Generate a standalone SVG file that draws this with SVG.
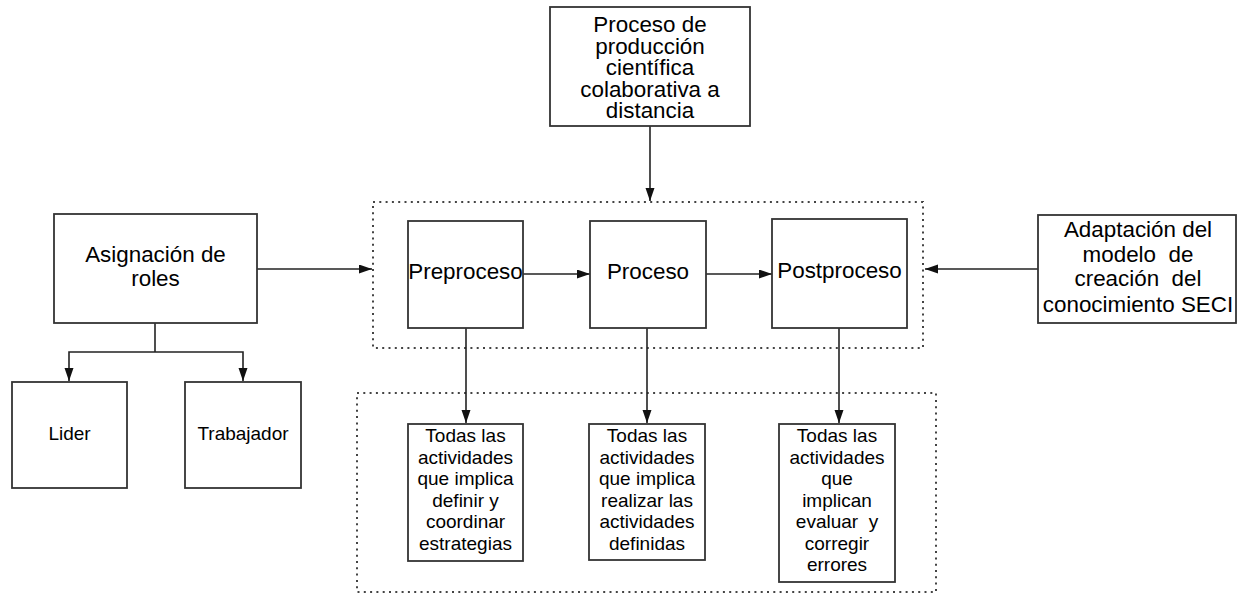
<svg xmlns="http://www.w3.org/2000/svg" width="1238" height="596" viewBox="0 0 1238 596">
<defs>
<marker id="ah" markerUnits="userSpaceOnUse" markerWidth="14" markerHeight="10" refX="13" refY="4.5" orient="auto">
<path d="M0,0 L13,4.5 L0,9 Z" fill="#111"/>
</marker>
<style>
.box{fill:#fff;stroke:#333;stroke-width:1.8}
.dot{fill:none;stroke:#444;stroke-width:2;stroke-dasharray:2 4.3}
.ln{fill:none;stroke:#222;stroke-width:1.6}
.ar{fill:none;stroke:#222;stroke-width:1.6;marker-end:url(#ah)}
text{font-family:"Liberation Sans",Arial,sans-serif;fill:#000;text-anchor:middle}
.t22{font-size:22.4px}
.t19{font-size:19px}
</style>
</defs>
<rect width="1238" height="596" fill="#fff"/>

<g id="group-main">
<rect class="dot" x="373" y="202" width="550" height="146"/>
</g>
<g id="group-activities">
<rect class="dot" x="357" y="393" width="579" height="199"/>
</g>

<g id="connectors">
<line class="ar" x1="650" y1="126" x2="650" y2="201"/>
<line class="ar" x1="257" y1="269" x2="372" y2="269"/>
<line class="ar" x1="1038" y1="269" x2="925" y2="269"/>
<line class="ar" x1="523" y1="274" x2="590" y2="274"/>
<line class="ar" x1="706" y1="274" x2="772" y2="274"/>
<polyline class="ln" points="155,323 155,352"/>
<polyline class="ar" points="155,352 69,352 69,381"/>
<polyline class="ar" points="155,352 243,352 243,381"/>
<line class="ar" x1="466" y1="328" x2="466" y2="423"/>
<line class="ar" x1="647" y1="328" x2="647" y2="423"/>
<line class="ar" x1="839" y1="328" x2="839" y2="423"/>
</g>

<g id="node-proceso-produccion">
<rect class="box" x="550" y="7" width="200" height="119"/>
<text class="t22"><tspan x="650" y="32">Proceso de</tspan><tspan x="650" y="53.5">producción</tspan><tspan x="650" y="75">científica</tspan><tspan x="650" y="96.5">colaborativa a</tspan><tspan x="650" y="118">distancia</tspan></text>
</g>

<g id="node-asignacion">
<rect class="box" x="54" y="214" width="203" height="109"/>
<text class="t22"><tspan x="155.5" y="262">Asignación de</tspan><tspan x="155.5" y="286">roles</tspan></text>
</g>

<g id="node-lider">
<rect class="box" x="12" y="382" width="115" height="106"/>
<text class="t19" x="69.5" y="440">Lider</text>
</g>

<g id="node-trabajador">
<rect class="box" x="185" y="382" width="116" height="106"/>
<text class="t19" x="243" y="440">Trabajador</text>
</g>

<g id="node-preproceso">
<rect class="box" x="408" y="221" width="115" height="107"/>
<text class="t22" x="465.5" y="279">Preproceso</text>
</g>

<g id="node-proceso">
<rect class="box" x="590" y="221" width="116" height="107"/>
<text class="t22" x="648" y="279">Proceso</text>
</g>

<g id="node-postproceso">
<rect class="box" x="772" y="219" width="135" height="109"/>
<text class="t22" x="839.5" y="278">Postproceso</text>
</g>

<g id="node-adaptacion">
<rect class="box" x="1038" y="215" width="198" height="108"/>
<text class="t22" xml:space="preserve"><tspan x="1138" y="237">Adaptación del</tspan><tspan x="1138" y="262">modelo  de</tspan><tspan x="1138" y="286">creación  del</tspan><tspan x="1138" y="312">conocimiento SECI</tspan></text>
</g>

<g id="node-act-pre">
<rect class="box" x="408" y="424" width="115" height="137"/>
<text class="t19"><tspan x="465.5" y="442">Todas las</tspan><tspan x="465.5" y="463.5">actividades</tspan><tspan x="465.5" y="485">que implica</tspan><tspan x="465.5" y="506.5">definir y</tspan><tspan x="465.5" y="528">coordinar</tspan><tspan x="465.5" y="549.5">estrategias</tspan></text>
</g>

<g id="node-act-proc">
<rect class="box" x="589" y="424" width="116" height="136"/>
<text class="t19"><tspan x="647" y="442">Todas las</tspan><tspan x="647" y="463.5">actividades</tspan><tspan x="647" y="485">que implica</tspan><tspan x="647" y="506.5">realizar las</tspan><tspan x="647" y="528">actividades</tspan><tspan x="647" y="549.5">definidas</tspan></text>
</g>

<g id="node-act-post">
<rect class="box" x="779" y="424" width="116" height="158"/>
<text class="t19" xml:space="preserve"><tspan x="837" y="442">Todas las</tspan><tspan x="837" y="463.5">actividades</tspan><tspan x="837" y="485">que</tspan><tspan x="837" y="506.5">implican</tspan><tspan x="837" y="528">evaluar  y</tspan><tspan x="837" y="549.5">corregir</tspan><tspan x="837" y="571">errores</tspan></text>
</g>
</svg>
